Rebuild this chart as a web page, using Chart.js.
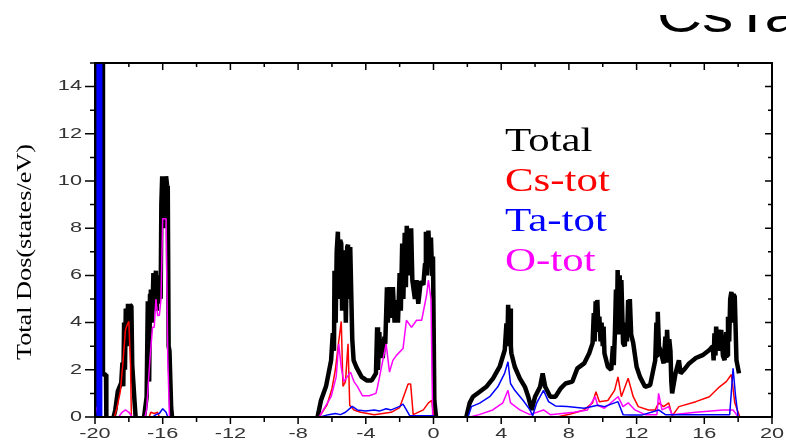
<!DOCTYPE html>
<html>
<head>
<meta charset="utf-8">
<script src="https://cdn.jsdelivr.net/npm/chart.js@4.4.1/dist/chart.umd.min.js"></script>
<style>
  html, body { margin: 0; padding: 0; background: #fff; }
  #wrap { width: 786px; height: 443px; position: relative; }
</style>
</head>
<body>
<div id="wrap"><canvas id="dosChart" width="786" height="443"></canvas></div>
<script>
// Energy grids (eV) and DOS values (states/eV); null breaks the line between bands
const totalE = [
  -19.97, -19.96, -19.55, -19.53, -19.35, -19.33, -19.2,
  -18.9, -18.8, -18.65, -18.45, -18.38, -18.33, -18.28, -18.23, -18.18, -18.13, -18.05, -18.0, -17.93,
  -17.85, -17.8, -17.76, -17.65, -17.6, -17.4,
  -17.1, -16.95, -16.88, -16.8, -16.75, -16.7, -16.62, -16.55, -16.48, -16.4, -16.35, -16.3, -16.25,
  -16.2, -16.12, -16.08, -16.03, -15.97, -15.92, -15.85, -15.8, -15.74, -15.7, -15.65, -15.6, -15.5,
  -15.45, -15.3,
  -6.85, -6.65, -6.35, -6.05, -5.95, -5.88, -5.85, -5.78, -5.72, -5.65, -5.58, -5.52, -5.45, -5.4,
  -5.33, -5.25, -5.18, -5.1, -5.05, -4.98, -4.92, -4.88, -4.8, -4.72, -4.55, -4.25, -3.95, -3.65,
  -3.4, -3.33, -3.28, -3.2, -3.15, -3.05, -3.0, -2.9, -2.85, -2.75, -2.7, -2.6, -2.5, -2.4, -2.3,
  -2.2, -2.1, -2.0, -1.93, -1.85, -1.78, -1.7, -1.63, -1.58, -1.5, -1.43, -1.37, -1.32, -1.25,
  -1.1, -1.0, -0.9, -0.75, -0.6, -0.5, -0.45, -0.38, -0.3, -0.22, -0.15, -0.08, -0.03, 0.05, 0.15, 0.5,
  1.94, 2.14, 2.33, 2.73, 3.12, 3.52, 3.91, 4.21, 4.31, 4.36, 4.41, 4.47, 4.52, 4.57, 4.6, 4.8,
  5.1, 5.4, 5.6, 5.8, 6.0, 6.3, 6.45, 6.6, 6.9, 7.2, 7.5, 7.8, 8.2, 8.5, 8.9, 9.2,
  9.4, 9.47, 9.52, 9.58, 9.63, 9.68, 9.74, 9.8, 9.87, 9.93, 10.0, 10.05, 10.1,
  10.3, 10.5, 10.6, 10.65, 10.72, 10.78, 10.83, 10.88, 10.95, 11.0, 11.06, 11.1, 11.2, 11.3,
  11.38, 11.43, 11.5, 11.55, 11.6, 11.68, 11.8, 12.0, 12.2, 12.5, 12.8,
  13.1, 13.17, 13.22, 13.25, 13.32, 13.4, 13.6, 13.7, 13.75, 13.8, 13.88, 13.93, 14.0, 14.05, 14.1,
  14.3, 14.5, 14.6, 14.8, 15.1, 15.5, 15.9,
  16.3, 16.5, 16.55, 16.6, 16.66, 16.7, 16.78, 16.85, 16.92, 17.0, 17.1, 17.2, 17.3, 17.35,
  17.4, 17.47, 17.53, 17.6, 17.65, 17.72, 17.8, 17.9, 18.05
];
const totalDos = [
  0, 40, 40, 1.8, 1.8, 0, null,
  0, 0.3, 1.1, 1.45, 2.3, 1.3, 4.0, 2.0, 4.6, 3.0, 4.8, 3.5, 4.75,
  4.7, 2.2, 2.2, 0.5, 0, null,
  0, 0.85, 4.9, 1.5, 5.2, 5.4, 4.0, 6.1, 5.0, 6.2, 4.5, 5.8, 4.8,
  6.0, 5.0, 9.0, 10.2, 8.0, 10.2, 9.0, 10.2, 9.8, 9.6, 3.0, 2.8, 0.4,
  0, null,
  0, 0.7, 1.3, 2.4, 3.55, 2.8, 6.2, 4.0, 7.0, 7.85, 5.0, 7.5, 7.35, 4.5,
  6.8, 7.05, 4.0, 7.2, 7.3, 5.0, 7.2, 7.2, 3.3, 2.4, 2.1, 1.7, 1.55, 1.55,
  1.85, 3.8, 2.0, 3.6, 2.6, 3.3, 2.5, 3.4, 3.1, 5.5, 4.0, 5.5, 4.2, 5.5, 4.0,
  4.95, 4.0, 6.1, 4.5, 7.35, 5.0, 7.8, 5.5, 8.1, 6.0, 8.0, 6.0, 8.0, 5.8,
  5.0, 5.8, 4.8, 5.75, 5.6, 6.5, 7.85, 6.0, 7.9, 6.5, 7.6, 6.0, 6.8, 0.7, 0, null,
  0, 0.6, 0.86, 1.07, 1.28, 1.64, 2.13, 2.84, 3.97, 3.0, 4.75, 3.5, 4.6, 3.0, 2.7, 2.13,
  1.64, 1.28, 0.86, 0.3, 0.86, 1.28, 1.85, 1.28, 0.86, 0.86, 1.2, 1.42, 1.5, 2.06, 2.27, 2.7,
  3.13, 4.4, 3.2, 4.9, 3.6, 4.96, 3.7, 4.25, 3.2, 4.0, 3.0, 3.83, 2.7,
  2.13, 2.0, 3.0, 2.2, 3.6, 5.4, 3.5, 6.23, 4.0, 6.0, 3.5, 5.8, 3.13, 3.0,
  4.0, 3.2, 4.96, 3.5, 5.0, 3.5, 3.13, 2.13, 1.7, 1.28, 1.35,
  2.4, 4.0, 2.6, 4.46, 3.0, 2.84, 2.27, 3.4, 2.3, 3.69, 2.5, 3.3, 2.8, 1.5, 1.0,
  1.85, 2.4, 1.85, 2.0, 2.27, 2.5, 2.62,
  2.84, 3.0, 2.4, 3.55, 2.6, 3.83, 3.0, 3.7, 2.8, 3.69, 2.6, 2.41, 3.6, 2.6,
  4.25, 3.2, 5.0, 5.3, 4.0, 5.2, 5.1, 2.41, 1.85
];

const csE = [
  -18.85, -18.7, -18.5, -18.35, -18.2, -18.1, -18.0, -17.9, -17.85, -17.7,
  -16.8, -16.7, -16.5, -16.3, -16.2, -16.0,
  -6.75, -6.3, -6.0, -5.8, -5.6, -5.45, -5.35, -5.2, -5.05, -4.95, -4.7, -4.3, -3.5, -2.5, -2.0,
  -1.7, -1.5, -1.35, -1.2, -0.6, -0.3, -0.1, 0.0, 1.0,
  7.3, 8.1, 8.9, 9.4, 9.6, 9.8, 10.3, 10.7, 10.9, 11.1, 11.5, 11.8, 12.1, 12.7, 13.1, 13.3,
  13.6, 13.9, 14.1, 14.5, 15.5, 16.3, 16.9, 17.3, 17.6, 17.8, 18.1
];
const csDos = [
  0, 0.4, 1.1, 2.3, 3.7, 3.9, 4.05, 2.2, 0, null,
  0, 0.2, 0.15, 0.2, 0, null,
  0, 0.5, 1.2, 2.0, 3.2, 4.05, 1.3, 1.5, 3.1, 0.5, 0.3, 0.2, 0.1, 0.2, 0.4,
  1.0, 1.4, 1.4, 0.1, 0.3, 0.6, 0.7, 0, null,
  0, 0.13, 0.3, 0.6, 1.07, 0.65, 0.7, 1.13, 1.7, 0.86, 1.64, 0.86, 0.44, 0.3, 0.3, 0.6,
  0.44, 0.6, 0.05, 0.44, 0.65, 0.86, 1.28, 1.5, 1.8, 0.6, 0
];

const taE = [
  -19.74, -19.74, -19.74, -19.0,
  -16.6, -16.4, -16.2, -16.0, -15.8, -15.7, -15.0,
  -6.7, -6.2, -5.8, -5.5, -5.2, -4.8, -4.5, -4.0, -3.5, -3.2, -2.8, -2.5, -2.0, -1.8, -1.6, -1.4,
  -0.5, 0.0, 0.05, 1.0,
  2.04, 2.24, 2.73, 3.32, 3.8, 4.2, 4.4, 4.55, 4.8, 5.3, 5.7, 5.86, 6.1, 6.5, 6.8, 7.2, 7.9,
  8.9, 9.7, 10.1, 10.9, 11.2, 11.7, 12.3, 13.3, 13.7, 14.3, 17.5, 17.7, 17.85, 18.0
];
const taDos = [
  0, 40, 0, null,
  0, 0.1, 0.15, 0.35, 0.2, 0, null,
  0, 0.1, 0.15, 0.1, 0.2, 0.45, 0.3, 0.25, 0.3, 0.25, 0.35, 0.3, 0.45, 0.55, 0.3, 0.05,
  0.05, 0.05, 0, null,
  0, 0.44, 0.59, 0.86, 1.28, 1.85, 2.34, 1.42, 1.13, 0.7, 0.3, 0.05, 0.6, 1.13, 0.65, 0.47, 0.44,
  0.37, 0.5, 0.44, 0.65, 0.1, 0.08, 0.08, 0.3, 0.1, 0.1, 0.1, 2.06, 0.86, 0
];

const oE = [
  -20.0, -19.92, -19.85, -19.8, -19.0,
  -18.6, -18.4, -18.2, -18.0, -17.8, -17.5,
  -17.05, -16.95, -16.75, -16.6, -16.5, -16.4, -16.3, -16.2, -16.1, -16.0, -15.8, -15.7, -15.6, -15.0,
  -6.75, -6.05, -5.75, -5.6, -5.45, -5.3, -5.1, -4.9, -4.7, -4.5, -4.2, -3.8, -3.4, -3.3,
  -2.8, -2.6, -2.4, -2.2, -1.8, -1.6, -1.3, -1.0, -0.7, -0.4, -0.3, -0.15, -0.05, 1.0,
  2.14, 2.7, 3.5, 4.1, 4.4, 4.55, 5.1, 5.7, 6.5, 6.9, 8.3, 9.1, 9.55, 9.7, 10.1, 10.9,
  11.2, 11.5, 11.9, 12.5, 13.2, 13.3, 13.5, 13.9, 14.1, 15.5, 17.1, 17.7, 18.0
];
const oDos = [
  0, 0.4, 0.4, 0, null,
  0, 0.2, 0.3, 0.2, 0, null,
  0, 0.3, 2.5, 3.8, 3.8, 5.0, 4.3, 4.3, 5.0, 8.4, 8.4, 2.5, 0, null,
  0, 0.86, 1.7, 3.1, 2.1, 1.5, 1.7, 1.9, 1.5, 1.3, 0.9, 0.9, 1.0, 1.3,
  3.1, 1.9, 2.4, 2.6, 2.9, 4.1, 3.8, 4.1, 4.1, 5.2, 5.8, 5.0, 0, null,
  0, 0.1, 0.3, 0.6, 1.13, 0.6, 0.3, 0.1, 0.3, 0.1, 0.2, 0.3, 0.86, 0.5, 0.37, 0.86,
  0.44, 0.6, 0.3, 0.1, 0.1, 1.0, 0.3, 0.44, 0.1, 0.2, 0.3, 0.3, 0
];

// Axis ticks and labels
const xMajor = [-20, -16, -12, -8, -4, 0, 4, 8, 12, 16, 20];
const xMinor = [-18, -14, -10, -6, -2, 2, 6, 10, 14, 18];
const yMajor = [0, 2, 4, 6, 8, 10, 12, 14];
const yMinor = [1, 3, 5, 7, 9, 11, 13, 15];
const legendNames = ['Total', 'Cs-tot', 'Ta-tot', 'O-tot'];
const legendColors = ['#000000', '#ff0000', '#0000ff', '#ff00ff'];

const toPoints = (xs, ys) => xs.map((x, i) => ({ x: x, y: ys[i] }));

// Frame, ticks, tick labels, legend and title, all placed from the scales
const framePlugin = {
    id: 'frame',
    afterDraw(chart) {
        const ctx = chart.ctx;
        const xs = chart.scales.x, ys = chart.scales.y;
        const a = chart.chartArea;
        ctx.save();
        ctx.strokeStyle = '#000';
        ctx.lineWidth = 2;
        ctx.strokeRect(a.left, a.top, a.right - a.left, a.bottom - a.top);

        ctx.lineWidth = 1.5;
        ctx.beginPath();
        xMajor.forEach(v => {
            const p = xs.getPixelForValue(v);
            ctx.moveTo(p, a.bottom); ctx.lineTo(p, a.bottom + 7);
            ctx.moveTo(p, a.top); ctx.lineTo(p, a.top + 7);
        });
        xMinor.forEach(v => {
            const p = xs.getPixelForValue(v);
            ctx.moveTo(p, a.bottom); ctx.lineTo(p, a.bottom + 5);
            ctx.moveTo(p, a.top); ctx.lineTo(p, a.top + 4);
        });
        yMajor.forEach(v => {
            const p = ys.getPixelForValue(v);
            ctx.moveTo(a.left, p); ctx.lineTo(a.left - 10, p);
            ctx.moveTo(a.right, p); ctx.lineTo(a.right - 7, p);
        });
        yMinor.forEach(v => {
            const p = ys.getPixelForValue(v);
            ctx.moveTo(a.left, p); ctx.lineTo(a.left - 5, p);
            ctx.moveTo(a.right, p); ctx.lineTo(a.right - 4, p);
        });
        ctx.stroke();

        // tick labels (wide sans)
        ctx.fillStyle = '#333';
        ctx.font = '14px "Liberation Sans", Arial, sans-serif';
        ctx.textBaseline = 'middle';
        const sx = 1.55;
        xMajor.forEach(v => {
            const p = xs.getPixelForValue(v);
            ctx.save();
            ctx.translate(p, a.bottom + 17);
            ctx.scale(sx, 1);
            ctx.textAlign = 'center';
            ctx.fillText(String(v), 0, 0);
            ctx.restore();
        });
        yMajor.forEach(v => {
            const p = ys.getPixelForValue(v);
            ctx.save();
            ctx.translate(a.left - 13, p);
            ctx.scale(sx, 1);
            ctx.textAlign = 'right';
            ctx.fillText(String(v), 0, 0);
            ctx.restore();
        });

        // y axis title
        ctx.save();
        ctx.translate(25, 252);
        ctx.rotate(-Math.PI / 2);
        ctx.scale(1.25, 1);
        ctx.fillStyle = '#000';
        ctx.font = '21px "Liberation Serif", "Times New Roman", serif';
        ctx.textAlign = 'center';
        ctx.fillText('Total Dos(states/eV)', 0, 0);
        ctx.restore();

        // legend text
        ctx.font = '33px "Liberation Serif", "Times New Roman", serif';
        ctx.textAlign = 'left';
        ctx.textBaseline = 'alphabetic';
        legendNames.forEach((name, i) => {
            ctx.save();
            ctx.translate(505, 151 + i * 40);
            ctx.scale(1.3, 1);
            ctx.fillStyle = legendColors[i];
            ctx.fillText(name, 0, 0);
            ctx.restore();
        });

        // clipped title at top right
        ctx.save();
        ctx.beginPath();
        ctx.rect(0, 15, 786, 25);
        ctx.clip();
        ctx.translate(657, 32);
        ctx.scale(1.3, 1);
        ctx.fillStyle = '#000';
        ctx.font = '48px "Liberation Sans", Arial, sans-serif';
        ctx.fillText('CsTaO3', 0, 0);
        ctx.restore();

        ctx.restore();
    }
};

const lineSet = (label, pts, color, width, order) => ({
    label: label,
    data: pts,
    borderColor: color,
    backgroundColor: color,
    borderWidth: width,
    pointRadius: 0,
    tension: 0,
    fill: false,
    spanGaps: false,
    borderJoinStyle: 'bevel',
    order: order
});

const taSet = lineSet('Ta-tot', toPoints(taE, taDos), '#0000ff', 1.5, 1);
// the deep Ta level below -19 eV is drawn as a wide bar
taSet.segment = {
    borderWidth: c => (c.p0.parsed.y > 15 || c.p1.parsed.y > 15) ? 6 : 1.5
};

new Chart(document.getElementById('dosChart'), {
    type: 'line',
    data: {
        datasets: [
            lineSet('Total', toPoints(totalE, totalDos), '#000000', 4.5, 4),
            lineSet('Cs-tot', toPoints(csE, csDos), '#ff0000', 1.5, 3),
            lineSet('O-tot', toPoints(oE, oDos), '#ff00ff', 1.5, 2),
            taSet
        ]
    },
    options: {
        responsive: false,
        animation: false,
        devicePixelRatio: 1,
        layout: { padding: { left: 95, right: 14, top: 63, bottom: 26 } },
        plugins: {
            legend: { display: false },
            tooltip: { enabled: false }
        },
        scales: {
            x: { type: 'linear', min: -20, max: 20, display: false },
            y: { type: 'linear', min: 0, max: 15, display: false }
        }
    },
    plugins: [framePlugin]
});
</script>
</body>
</html>
